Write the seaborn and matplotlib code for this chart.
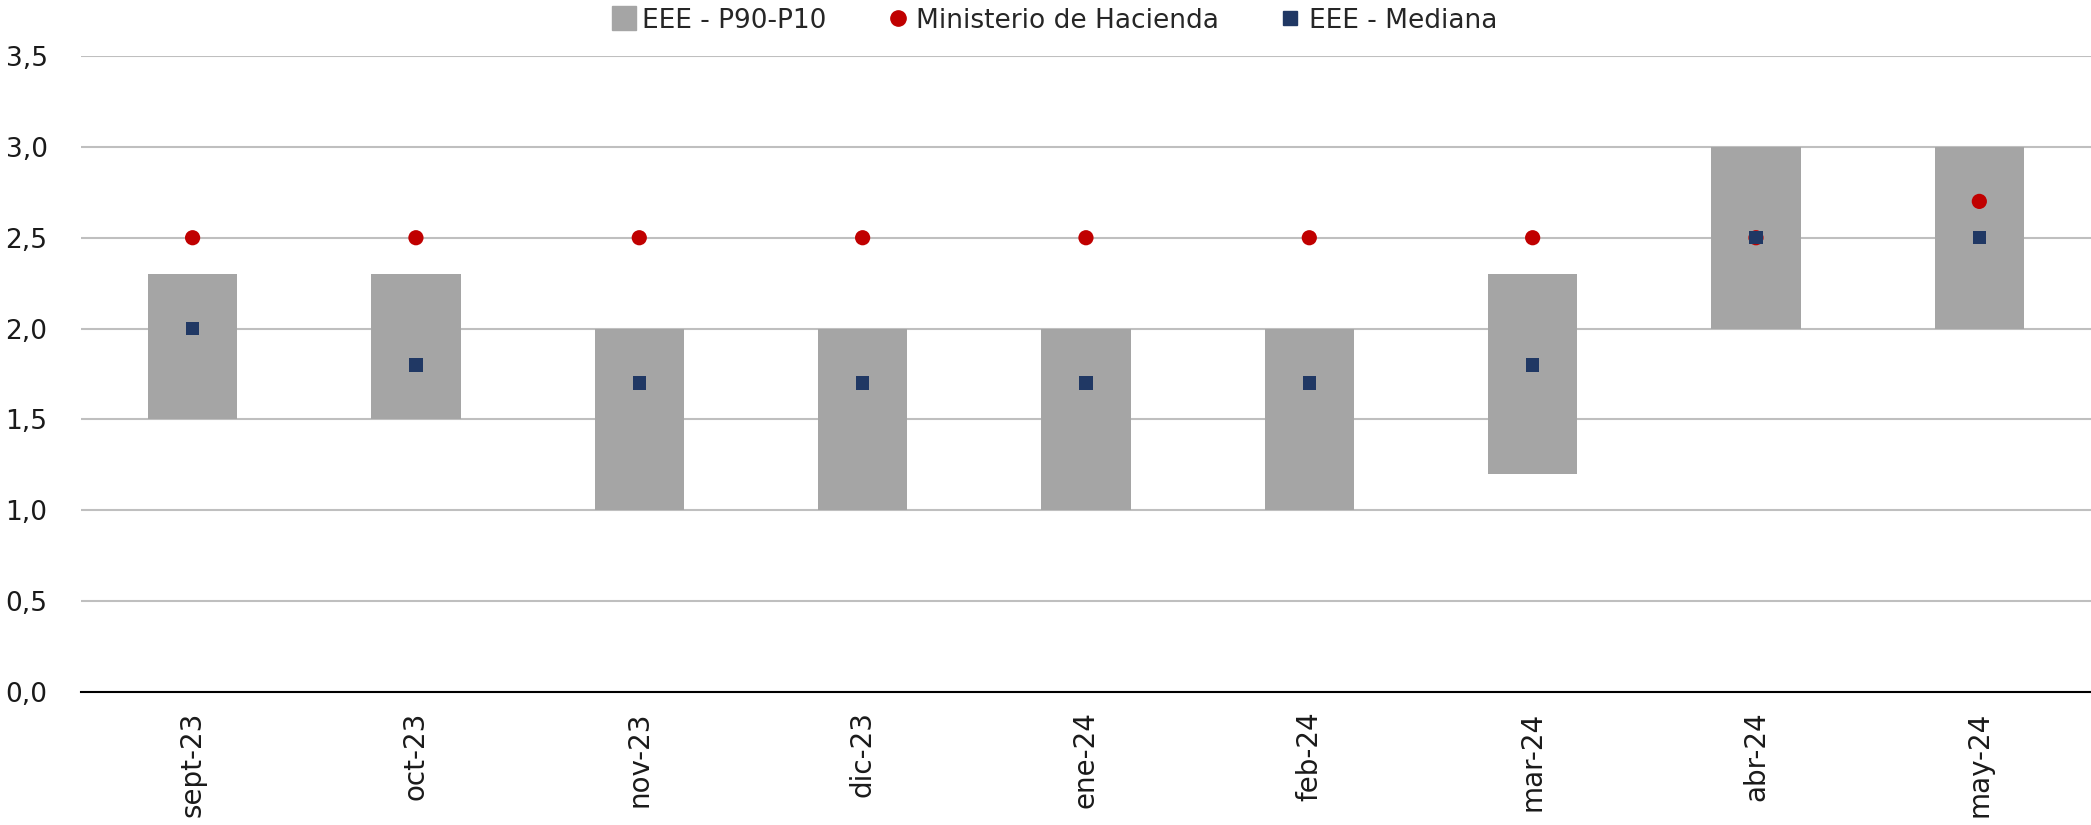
import matplotlib
matplotlib.use("Agg")
import matplotlib.pyplot as plt
from matplotlib.lines import Line2D
import seaborn as sns
import pandas as pd

# Datos
meses = ["sept-23", "oct-23", "nov-23", "dic-23", "ene-24", "feb-24", "mar-24", "abr-24", "may-24"]
p10 = [1.5, 1.5, 1.0, 1.0, 1.0, 1.0, 1.2, 2.0, 2.0]
p90 = [2.3, 2.3, 2.0, 2.0, 2.0, 2.0, 2.3, 3.0, 3.0]
hacienda = [2.5, 2.5, 2.5, 2.5, 2.5, 2.5, 2.5, 2.5, 2.7]
mediana = [2.0, 1.8, 1.7, 1.7, 1.7, 1.7, 1.8, 2.5, 2.5]

gris = "#A5A5A5"
rojo = "#C00000"
azul = "#203864"

df = pd.DataFrame({"mes": meses, "p10": p10, "p90": p90,
                   "hacienda": hacienda, "mediana": mediana})
df["rango"] = df["p90"] - df["p10"]

sns.set_style("white")
plt.rcParams["font.family"] = ["DejaVu Sans"]

fig = plt.figure(figsize=(20.91, 8.25), dpi=100)
ax = fig.add_axes([0.0387, 0.1612, 0.9613, 0.7709])

# Barras flotantes P10-P90
ax.bar(df["mes"], df["rango"], bottom=df["p10"], width=0.4, color=gris,
       linewidth=0, zorder=2)
sns.scatterplot(data=df, x="mes", y="hacienda", marker="o", s=120, color=rojo,
                edgecolor="none", ax=ax, zorder=3)
sns.scatterplot(data=df, x="mes", y="mediana", marker="s", s=95, color=azul,
                edgecolor="none", ax=ax, zorder=4)

ax.set_xlim(-0.5, len(meses) - 0.5)
ax.set_ylim(0, 3.5)
ax.set_yticks([0, 0.5, 1.0, 1.5, 2.0, 2.5, 3.0, 3.5])
ax.set_yticklabels([f"{v:.1f}".replace(".", ",") for v in ax.get_yticks()], fontsize=19)
ax.yaxis.grid(True, color="#BFBFBF", linewidth=1.5, zorder=0)
ax.set_axisbelow(True)
ax.tick_params(axis="y", length=0, pad=24, labelcolor="#1a1a1a")
ax.tick_params(axis="x", length=0, pad=14, labelsize=20, labelrotation=90, labelcolor="#1a1a1a")
ax.set_xlabel("")
ax.set_ylabel("")
for s in ["top", "right", "left"]:
    ax.spines[s].set_visible(False)
ax.spines["bottom"].set_color("black")
ax.spines["bottom"].set_linewidth(1.5)

handles = [
    Line2D([], [], marker="s", linestyle="none", markersize=17, color=gris),
    Line2D([], [], marker="o", linestyle="none", markersize=11, color=rojo),
    Line2D([], [], marker="s", linestyle="none", markersize=10, color=azul),
]
labels = ["EEE - P90-P10", "Ministerio de Hacienda", "EEE - Mediana"]
fig.legend(handles, labels, loc="center", bbox_to_anchor=(0.504, 0.975), ncol=3,
           frameon=False, handletextpad=0.2, columnspacing=2.2,
           handlelength=1.0, prop={"family": ["DejaVu Sans"], "size": 19})

fig.savefig("out.png", dpi=100)
